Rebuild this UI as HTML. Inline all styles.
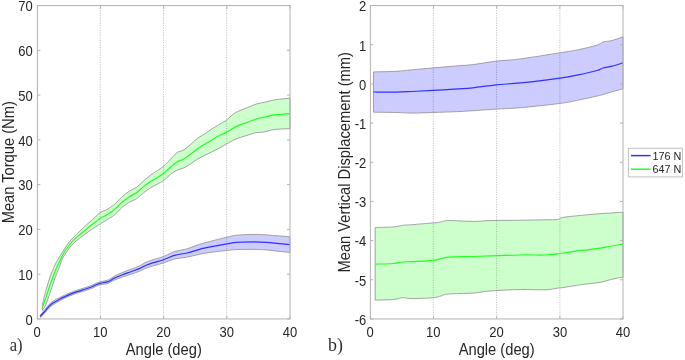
<!DOCTYPE html>
<html lang="en"><head><meta charset="utf-8"><title>Mean torque and vertical displacement</title>
<style>
html,body{margin:0;padding:0;background:#fff;}
svg{display:block;filter:blur(0.35px);}
text{font-family:"Liberation Sans",sans-serif;fill:#262626;}
.t{font-size:14px;}
.l{font-size:15.9px;}
.g{font-size:10.8px;}
.s{font-family:"Liberation Serif",serif;font-size:19.5px;fill:#2e2e2e;}
</style></head><body>
<svg width="685" height="360" viewBox="0 0 685 360">
<rect x="0" y="0" width="685" height="360" fill="#ffffff"/>
<line x1="100.20" y1="5.55" x2="100.20" y2="318.95" stroke="#bcbcbc" stroke-width="1" stroke-dasharray="1.1 1.35"/>
<line x1="163.45" y1="5.55" x2="163.45" y2="318.95" stroke="#bcbcbc" stroke-width="1" stroke-dasharray="1.1 1.35"/>
<line x1="226.70" y1="5.55" x2="226.70" y2="318.95" stroke="#bcbcbc" stroke-width="1" stroke-dasharray="1.1 1.35"/>
<path d="M42.50 303.70 C43.10 301.37 44.78 294.30 46.10 289.70 C47.42 285.10 48.92 280.23 50.40 276.10 C51.88 271.97 53.52 268.05 55.00 264.90 C56.48 261.75 58.02 259.38 59.30 257.20 C60.58 255.02 61.03 254.35 62.70 251.80 C64.37 249.25 67.08 244.73 69.30 241.90 C71.52 239.07 73.77 237.05 76.00 234.80 C78.23 232.55 80.48 230.48 82.70 228.40 C84.92 226.32 87.08 224.32 89.30 222.30 C91.52 220.28 94.18 217.93 96.00 216.30 C97.82 214.67 98.53 213.55 100.20 212.50 C101.87 211.45 103.92 211.12 106.00 210.00 C108.08 208.88 110.87 207.13 112.70 205.80 C114.53 204.47 115.40 203.55 117.00 202.00 C118.60 200.45 120.15 198.37 122.30 196.50 C124.45 194.63 127.48 192.37 129.90 190.80 C132.32 189.23 134.48 188.80 136.80 187.10 C139.12 185.40 141.48 182.62 143.80 180.60 C146.12 178.58 148.38 176.70 150.70 175.00 C153.02 173.30 155.57 171.85 157.70 170.40 C159.83 168.95 161.32 168.20 163.50 166.30 C165.68 164.40 168.57 161.28 170.80 159.00 C173.03 156.72 174.72 154.12 176.90 152.60 C179.08 151.08 181.58 151.28 183.90 149.90 C186.22 148.52 188.48 146.27 190.80 144.30 C193.12 142.33 195.48 139.83 197.80 138.10 C200.12 136.37 202.38 135.42 204.70 133.90 C207.02 132.38 209.38 130.50 211.70 129.00 C214.02 127.50 216.15 126.37 218.60 124.90 C221.05 123.43 223.90 122.05 226.40 120.20 C228.90 118.35 231.12 115.50 233.60 113.80 C236.08 112.10 238.75 111.13 241.30 110.00 C243.85 108.87 246.35 108.02 248.90 107.00 C251.45 105.98 254.05 104.67 256.60 103.90 C259.15 103.13 261.67 102.98 264.20 102.40 C266.73 101.82 269.25 100.93 271.80 100.40 C274.35 99.87 276.47 99.58 279.50 99.20 C282.53 98.82 288.25 98.28 290.00 98.10 L290.00 128.70 C288.25 128.77 282.53 128.90 279.50 129.10 C276.47 129.30 274.35 129.42 271.80 129.90 C269.25 130.38 266.73 131.57 264.20 132.00 C261.67 132.43 259.15 132.03 256.60 132.50 C254.05 132.97 251.45 134.03 248.90 134.80 C246.35 135.57 243.85 136.22 241.30 137.10 C238.75 137.98 236.08 138.93 233.60 140.10 C231.12 141.27 228.90 142.70 226.40 144.10 C223.90 145.50 221.05 147.20 218.60 148.50 C216.15 149.80 214.02 150.75 211.70 151.90 C209.38 153.05 207.02 154.23 204.70 155.40 C202.38 156.57 200.12 157.51 197.80 158.90 C195.48 160.29 193.12 162.25 190.80 163.75 C188.48 165.25 186.22 166.83 183.90 167.90 C181.58 168.97 179.08 169.15 176.90 170.20 C174.72 171.25 173.03 172.47 170.80 174.20 C168.57 175.93 165.68 178.98 163.50 180.60 C161.32 182.22 159.83 182.70 157.70 183.90 C155.57 185.10 153.02 186.35 150.70 187.80 C148.38 189.25 146.12 190.80 143.80 192.60 C141.48 194.40 139.12 197.05 136.80 198.60 C134.48 200.15 132.32 200.45 129.90 201.90 C127.48 203.35 124.45 205.53 122.30 207.30 C120.15 209.07 118.60 211.00 117.00 212.50 C115.40 214.00 114.53 215.00 112.70 216.30 C110.87 217.60 108.08 219.02 106.00 220.30 C103.92 221.58 101.87 222.95 100.20 224.00 C98.53 225.05 97.82 225.42 96.00 226.60 C94.18 227.78 91.52 229.53 89.30 231.10 C87.08 232.67 84.92 234.35 82.70 236.00 C80.48 237.65 78.23 238.98 76.00 241.00 C73.77 243.02 71.52 245.23 69.30 248.10 C67.08 250.97 64.37 255.02 62.70 258.20 C61.03 261.38 60.58 263.88 59.30 267.20 C58.02 270.52 56.48 274.02 55.00 278.10 C53.52 282.18 51.88 287.37 50.40 291.70 C48.92 296.03 47.42 301.00 46.10 304.10 C44.78 307.20 43.10 309.27 42.50 310.30 Z" fill="#00ff00" fill-opacity="0.2" stroke="#8e8e8e" stroke-width="0.8" stroke-linejoin="round"/>
<path d="M42.50 307.00 C43.10 305.32 44.78 300.75 46.10 296.90 C47.42 293.05 48.92 288.13 50.40 283.90 C51.88 279.67 53.52 275.12 55.00 271.50 C56.48 267.88 58.02 264.95 59.30 262.20 C60.58 259.45 61.03 257.87 62.70 255.00 C64.37 252.13 67.08 247.85 69.30 245.00 C71.52 242.15 73.77 240.03 76.00 237.90 C78.23 235.77 80.48 234.05 82.70 232.20 C84.92 230.35 87.08 228.57 89.30 226.80 C91.52 225.03 94.18 223.03 96.00 221.60 C97.82 220.17 98.53 219.27 100.20 218.20 C101.87 217.13 103.92 216.42 106.00 215.20 C108.08 213.98 110.87 212.22 112.70 210.90 C114.53 209.58 115.40 208.78 117.00 207.30 C118.60 205.82 120.15 203.82 122.30 202.00 C124.45 200.18 127.48 197.97 129.90 196.40 C132.32 194.83 134.48 194.27 136.80 192.60 C139.12 190.93 141.48 188.25 143.80 186.40 C146.12 184.55 148.38 183.00 150.70 181.50 C153.02 180.00 155.57 178.73 157.70 177.40 C159.83 176.07 161.32 175.23 163.50 173.50 C165.68 171.77 168.57 168.93 170.80 167.00 C173.03 165.07 174.72 163.25 176.90 161.90 C179.08 160.55 181.58 160.22 183.90 158.90 C186.22 157.58 188.48 155.73 190.80 154.00 C193.12 152.27 195.48 150.12 197.80 148.50 C200.12 146.88 202.38 145.70 204.70 144.30 C207.02 142.90 209.38 141.48 211.70 140.10 C214.02 138.72 216.15 137.28 218.60 136.00 C221.05 134.72 223.90 133.75 226.40 132.40 C228.90 131.05 231.12 129.23 233.60 127.90 C236.08 126.57 238.75 125.42 241.30 124.40 C243.85 123.38 246.35 122.75 248.90 121.80 C251.45 120.85 254.05 119.47 256.60 118.70 C259.15 117.93 261.67 117.78 264.20 117.20 C266.73 116.62 269.25 115.65 271.80 115.20 C274.35 114.75 276.47 114.75 279.50 114.50 C282.53 114.25 288.25 113.83 290.00 113.70" fill="none" stroke="#22ff22" stroke-width="1.2" stroke-linejoin="round" stroke-linecap="butt"/>
<path d="M40.30 315.10 C41.03 314.22 43.25 311.57 44.70 309.80 C46.15 308.03 47.57 305.97 49.00 304.50 C50.43 303.03 51.62 302.10 53.30 301.00 C54.98 299.90 57.17 298.88 59.10 297.90 C61.03 296.92 62.50 296.18 64.90 295.10 C67.30 294.02 70.62 292.48 73.50 291.40 C76.38 290.32 79.30 289.55 82.20 288.60 C85.10 287.65 88.50 286.63 90.90 285.70 C93.30 284.77 95.04 283.65 96.60 283.00 C98.16 282.35 98.32 282.32 100.25 281.80 C102.18 281.28 105.91 280.80 108.20 279.90 C110.49 279.00 111.60 277.65 114.00 276.40 C116.40 275.15 119.77 273.60 122.60 272.40 C125.43 271.20 128.12 270.32 131.00 269.20 C133.88 268.08 137.18 266.95 139.90 265.70 C142.62 264.45 143.37 263.23 147.30 261.70 C151.23 260.17 158.95 258.20 163.50 256.50 C168.05 254.80 170.68 252.77 174.60 251.50 C178.52 250.23 182.87 250.10 187.00 248.90 C191.13 247.70 195.27 245.62 199.40 244.30 C203.53 242.98 207.25 242.17 211.80 241.00 C216.35 239.83 222.55 238.27 226.70 237.30 C230.85 236.33 232.15 235.68 236.70 235.20 C241.25 234.72 249.05 234.45 254.00 234.40 C258.95 234.35 262.27 234.65 266.40 234.90 C270.53 235.15 274.87 235.60 278.80 235.90 C282.73 236.20 288.13 236.57 290.00 236.70 L290.00 252.50 C288.13 252.30 282.73 251.73 278.80 251.30 C274.87 250.87 270.53 250.22 266.40 249.90 C262.27 249.58 258.95 249.45 254.00 249.40 C249.05 249.35 241.25 249.42 236.70 249.60 C232.15 249.78 230.85 250.07 226.70 250.50 C222.55 250.93 216.35 251.57 211.80 252.20 C207.25 252.83 203.53 253.48 199.40 254.30 C195.27 255.12 191.13 256.30 187.00 257.10 C182.87 257.90 178.52 258.13 174.60 259.10 C170.68 260.07 168.05 261.47 163.50 262.90 C158.95 264.33 151.23 266.33 147.30 267.70 C143.37 269.07 142.62 270.02 139.90 271.10 C137.18 272.18 133.88 273.22 131.00 274.20 C128.12 275.18 125.43 276.00 122.60 277.00 C119.77 278.00 116.40 279.15 114.00 280.20 C111.60 281.25 110.49 282.53 108.20 283.30 C105.91 284.07 102.18 284.35 100.25 284.80 C98.32 285.25 98.16 285.35 96.60 286.00 C95.04 286.65 93.30 287.77 90.90 288.70 C88.50 289.63 85.10 290.65 82.20 291.60 C79.30 292.55 76.38 293.32 73.50 294.40 C70.62 295.48 67.30 296.98 64.90 298.10 C62.50 299.22 61.03 300.02 59.10 301.10 C57.17 302.18 54.98 303.40 53.30 304.60 C51.62 305.80 50.43 306.87 49.00 308.30 C47.57 309.73 46.15 311.67 44.70 313.20 C43.25 314.73 41.03 316.78 40.30 317.50 Z" fill="#0000ff" fill-opacity="0.2" stroke="#8e8e8e" stroke-width="0.8" stroke-linejoin="round"/>
<path d="M40.30 316.30 C41.03 315.50 43.25 313.15 44.70 311.50 C46.15 309.85 47.57 307.85 49.00 306.40 C50.43 304.95 51.62 303.95 53.30 302.80 C54.98 301.65 57.17 300.53 59.10 299.50 C61.03 298.47 62.50 297.70 64.90 296.60 C67.30 295.50 70.62 293.98 73.50 292.90 C76.38 291.82 79.30 291.05 82.20 290.10 C85.10 289.15 88.50 288.13 90.90 287.20 C93.30 286.27 95.04 285.15 96.60 284.50 C98.16 283.85 98.32 283.78 100.25 283.30 C102.18 282.82 105.91 282.43 108.20 281.60 C110.49 280.77 111.60 279.45 114.00 278.30 C116.40 277.15 119.77 275.80 122.60 274.70 C125.43 273.60 128.12 272.75 131.00 271.70 C133.88 270.65 137.18 269.57 139.90 268.40 C142.62 267.23 143.37 266.15 147.30 264.70 C151.23 263.25 158.95 261.27 163.50 259.70 C168.05 258.13 170.68 256.42 174.60 255.30 C178.52 254.18 182.87 254.00 187.00 253.00 C191.13 252.00 195.27 250.37 199.40 249.30 C203.53 248.23 207.25 247.50 211.80 246.60 C216.35 245.70 222.55 244.60 226.70 243.90 C230.85 243.20 232.15 242.73 236.70 242.40 C241.25 242.07 249.05 241.90 254.00 241.90 C258.95 241.90 262.27 242.12 266.40 242.40 C270.53 242.68 274.87 243.23 278.80 243.60 C282.73 243.97 288.13 244.43 290.00 244.60" fill="none" stroke="#3030ff" stroke-width="1.2" stroke-linejoin="round" stroke-linecap="butt"/>
<rect x="37.40" y="5.55" width="252.60" height="313.40" fill="none" stroke="#b2b2b2" stroke-width="1"/>
<line x1="37.40" y1="318.95" x2="40.40" y2="318.95" stroke="#b2b2b2" stroke-width="1"/>
<line x1="290.00" y1="318.95" x2="287.00" y2="318.95" stroke="#b2b2b2" stroke-width="1"/>
<line x1="37.40" y1="274.18" x2="40.40" y2="274.18" stroke="#b2b2b2" stroke-width="1"/>
<line x1="290.00" y1="274.18" x2="287.00" y2="274.18" stroke="#b2b2b2" stroke-width="1"/>
<line x1="37.40" y1="229.41" x2="40.40" y2="229.41" stroke="#b2b2b2" stroke-width="1"/>
<line x1="290.00" y1="229.41" x2="287.00" y2="229.41" stroke="#b2b2b2" stroke-width="1"/>
<line x1="37.40" y1="184.64" x2="40.40" y2="184.64" stroke="#b2b2b2" stroke-width="1"/>
<line x1="290.00" y1="184.64" x2="287.00" y2="184.64" stroke="#b2b2b2" stroke-width="1"/>
<line x1="37.40" y1="139.86" x2="40.40" y2="139.86" stroke="#b2b2b2" stroke-width="1"/>
<line x1="290.00" y1="139.86" x2="287.00" y2="139.86" stroke="#b2b2b2" stroke-width="1"/>
<line x1="37.40" y1="95.09" x2="40.40" y2="95.09" stroke="#b2b2b2" stroke-width="1"/>
<line x1="290.00" y1="95.09" x2="287.00" y2="95.09" stroke="#b2b2b2" stroke-width="1"/>
<line x1="37.40" y1="50.32" x2="40.40" y2="50.32" stroke="#b2b2b2" stroke-width="1"/>
<line x1="290.00" y1="50.32" x2="287.00" y2="50.32" stroke="#b2b2b2" stroke-width="1"/>
<line x1="37.40" y1="5.55" x2="40.40" y2="5.55" stroke="#b2b2b2" stroke-width="1"/>
<line x1="290.00" y1="5.55" x2="287.00" y2="5.55" stroke="#b2b2b2" stroke-width="1"/>
<line x1="37.40" y1="318.95" x2="37.40" y2="315.95" stroke="#b2b2b2" stroke-width="1"/>
<line x1="37.40" y1="5.55" x2="37.40" y2="8.55" stroke="#b2b2b2" stroke-width="1"/>
<line x1="100.55" y1="318.95" x2="100.55" y2="315.95" stroke="#b2b2b2" stroke-width="1"/>
<line x1="100.55" y1="5.55" x2="100.55" y2="8.55" stroke="#b2b2b2" stroke-width="1"/>
<line x1="163.70" y1="318.95" x2="163.70" y2="315.95" stroke="#b2b2b2" stroke-width="1"/>
<line x1="163.70" y1="5.55" x2="163.70" y2="8.55" stroke="#b2b2b2" stroke-width="1"/>
<line x1="226.85" y1="318.95" x2="226.85" y2="315.95" stroke="#b2b2b2" stroke-width="1"/>
<line x1="226.85" y1="5.55" x2="226.85" y2="8.55" stroke="#b2b2b2" stroke-width="1"/>
<line x1="290.00" y1="318.95" x2="290.00" y2="315.95" stroke="#b2b2b2" stroke-width="1"/>
<line x1="290.00" y1="5.55" x2="290.00" y2="8.55" stroke="#b2b2b2" stroke-width="1"/>
<text class="t" transform="translate(32.80 324.75) scale(0.929 1)" text-anchor="end">0</text>
<text class="t" transform="translate(32.80 279.98) scale(0.929 1)" text-anchor="end">10</text>
<text class="t" transform="translate(32.80 235.21) scale(0.929 1)" text-anchor="end">20</text>
<text class="t" transform="translate(32.80 190.44) scale(0.929 1)" text-anchor="end">30</text>
<text class="t" transform="translate(32.80 145.66) scale(0.929 1)" text-anchor="end">40</text>
<text class="t" transform="translate(32.80 100.89) scale(0.929 1)" text-anchor="end">50</text>
<text class="t" transform="translate(32.80 56.12) scale(0.929 1)" text-anchor="end">60</text>
<text class="t" transform="translate(32.80 11.35) scale(0.929 1)" text-anchor="end">70</text>
<text class="t" transform="translate(37.00 336.70) scale(0.929 1)" text-anchor="middle">0</text>
<text class="t" transform="translate(100.20 336.70) scale(0.929 1)" text-anchor="middle">10</text>
<text class="t" transform="translate(163.45 336.70) scale(0.929 1)" text-anchor="middle">20</text>
<text class="t" transform="translate(226.70 336.70) scale(0.929 1)" text-anchor="middle">30</text>
<text class="t" transform="translate(290.00 336.70) scale(0.929 1)" text-anchor="middle">40</text>
<text class="l" transform="translate(163.80 355.00) scale(0.925 1)" text-anchor="middle">Angle (deg)</text>
<text class="l" transform="translate(13.80 162.25) rotate(-90) scale(0.925 1)" text-anchor="middle">Mean Torque (Nm)</text>
<text class="s" transform="translate(9.7 351.0) scale(0.85 1)">a)</text>
<line x1="433.30" y1="5.55" x2="433.30" y2="318.95" stroke="#bcbcbc" stroke-width="1" stroke-dasharray="1.1 1.35"/>
<line x1="496.60" y1="5.55" x2="496.60" y2="318.95" stroke="#bcbcbc" stroke-width="1" stroke-dasharray="1.1 1.35"/>
<line x1="559.90" y1="5.55" x2="559.90" y2="318.95" stroke="#bcbcbc" stroke-width="1" stroke-dasharray="1.1 1.35"/>
<path d="M373.50 71.90 C377.33 71.80 390.12 71.65 396.50 71.30 C402.88 70.95 405.68 70.37 411.80 69.80 C417.92 69.23 425.57 68.57 433.20 67.90 C440.83 67.23 451.00 66.35 457.60 65.80 C464.20 65.25 466.30 65.38 472.80 64.60 C479.30 63.82 488.65 62.05 496.60 61.10 C504.55 60.15 509.90 60.30 520.50 58.90 C531.10 57.50 550.53 54.23 560.20 52.70 C569.87 51.17 572.38 50.97 578.50 49.70 C584.62 48.43 592.82 46.37 596.90 45.10 C600.98 43.83 600.47 42.87 603.00 42.10 C605.53 41.33 608.77 41.37 612.10 40.50 C615.43 39.63 621.18 37.50 623.00 36.90 L623.00 88.80 C621.18 89.30 615.43 90.85 612.10 91.80 C608.77 92.75 605.53 93.78 603.00 94.50 C600.47 95.22 600.98 95.17 596.90 96.10 C592.82 97.03 584.62 98.88 578.50 100.10 C572.38 101.32 569.87 102.13 560.20 103.40 C550.53 104.67 531.10 106.75 520.50 107.70 C509.90 108.65 504.55 108.60 496.60 109.10 C488.65 109.60 479.30 110.28 472.80 110.70 C466.30 111.12 464.20 111.30 457.60 111.60 C451.00 111.90 440.83 112.25 433.20 112.50 C425.57 112.75 417.92 113.10 411.80 113.10 C405.68 113.10 402.88 112.65 396.50 112.50 C390.12 112.35 377.33 112.25 373.50 112.20 Z" fill="#0000ff" fill-opacity="0.2" stroke="#8e8e8e" stroke-width="0.8" stroke-linejoin="round"/>
<path d="M373.50 92.00 C377.33 92.02 390.12 92.18 396.50 92.10 C402.88 92.02 405.68 91.78 411.80 91.50 C417.92 91.22 425.57 90.83 433.20 90.40 C440.83 89.97 451.00 89.33 457.60 88.90 C464.20 88.47 466.30 88.48 472.80 87.80 C479.30 87.12 488.65 85.62 496.60 84.80 C504.55 83.98 509.90 84.02 520.50 82.90 C531.10 81.78 550.53 79.45 560.20 78.10 C569.87 76.75 572.38 76.07 578.50 74.80 C584.62 73.53 592.82 71.63 596.90 70.50 C600.98 69.37 600.47 68.72 603.00 68.00 C605.53 67.28 608.77 67.07 612.10 66.20 C615.43 65.33 621.18 63.37 623.00 62.80" fill="none" stroke="#3030ff" stroke-width="1.2" stroke-linejoin="round" stroke-linecap="butt"/>
<path d="M375.20 227.50 C378.25 227.40 388.93 227.27 393.50 226.90 C398.07 226.53 399.55 225.67 402.60 225.30 C405.65 224.93 406.70 225.10 411.80 224.70 C416.90 224.30 428.37 223.35 433.20 222.90 C438.03 222.45 438.27 222.40 440.80 222.00 C443.33 221.60 443.07 220.60 448.40 220.50 C453.73 220.40 465.87 221.38 472.80 221.40 C479.73 221.42 482.05 220.80 490.00 220.60 C497.95 220.40 511.33 220.33 520.50 220.20 C529.67 220.07 538.88 219.92 545.00 219.80 C551.12 219.68 554.15 219.90 557.20 219.50 C560.25 219.10 559.23 218.10 563.30 217.40 C567.37 216.70 575.50 215.92 581.60 215.30 C587.70 214.68 595.32 214.07 599.90 213.70 C604.48 213.33 606.05 213.30 609.10 213.10 C612.15 212.90 615.88 212.65 618.20 212.50 C620.52 212.35 622.20 212.25 623.00 212.20 L623.00 277.30 C622.20 277.40 620.52 277.45 618.20 277.90 C615.88 278.35 612.15 279.25 609.10 280.00 C606.05 280.75 604.48 281.63 599.90 282.40 C595.32 283.17 587.70 283.75 581.60 284.60 C575.50 285.45 567.37 286.90 563.30 287.50 C559.23 288.10 560.25 287.82 557.20 288.20 C554.15 288.58 551.12 289.58 545.00 289.80 C538.88 290.02 529.67 289.30 520.50 289.50 C511.33 289.70 497.95 290.40 490.00 291.00 C482.05 291.60 479.73 292.60 472.80 293.10 C465.87 293.60 453.73 293.52 448.40 294.00 C443.07 294.48 443.33 295.38 440.80 296.00 C438.27 296.62 438.03 297.27 433.20 297.70 C428.37 298.13 416.90 298.60 411.80 298.60 C406.70 298.60 405.65 297.55 402.60 297.70 C399.55 297.85 398.07 299.10 393.50 299.50 C388.93 299.90 378.25 300.00 375.20 300.10 Z" fill="#00ff00" fill-opacity="0.2" stroke="#8e8e8e" stroke-width="0.8" stroke-linejoin="round"/>
<path d="M375.20 264.10 C378.25 264.00 388.93 263.85 393.50 263.50 C398.07 263.15 399.55 262.32 402.60 262.00 C405.65 261.68 406.70 261.87 411.80 261.60 C416.90 261.33 428.37 260.85 433.20 260.40 C438.03 259.95 438.27 259.45 440.80 258.90 C443.33 258.35 443.07 257.50 448.40 257.10 C453.73 256.70 465.87 256.70 472.80 256.50 C479.73 256.30 482.05 256.15 490.00 255.90 C497.95 255.65 511.33 255.15 520.50 255.00 C529.67 254.85 538.88 255.18 545.00 255.00 C551.12 254.82 554.15 254.23 557.20 253.90 C560.25 253.57 559.23 253.58 563.30 253.00 C567.37 252.42 575.50 251.20 581.60 250.40 C587.70 249.60 595.32 248.85 599.90 248.20 C604.48 247.55 606.05 247.03 609.10 246.50 C612.15 245.97 615.88 245.37 618.20 245.00 C620.52 244.63 622.20 244.42 623.00 244.30" fill="none" stroke="#22ff22" stroke-width="1.2" stroke-linejoin="round" stroke-linecap="butt"/>
<rect x="370.40" y="5.55" width="252.60" height="313.40" fill="none" stroke="#b2b2b2" stroke-width="1"/>
<line x1="370.40" y1="318.95" x2="373.40" y2="318.95" stroke="#b2b2b2" stroke-width="1"/>
<line x1="623.00" y1="318.95" x2="620.00" y2="318.95" stroke="#b2b2b2" stroke-width="1"/>
<line x1="370.40" y1="279.77" x2="373.40" y2="279.77" stroke="#b2b2b2" stroke-width="1"/>
<line x1="623.00" y1="279.77" x2="620.00" y2="279.77" stroke="#b2b2b2" stroke-width="1"/>
<line x1="370.40" y1="240.60" x2="373.40" y2="240.60" stroke="#b2b2b2" stroke-width="1"/>
<line x1="623.00" y1="240.60" x2="620.00" y2="240.60" stroke="#b2b2b2" stroke-width="1"/>
<line x1="370.40" y1="201.43" x2="373.40" y2="201.43" stroke="#b2b2b2" stroke-width="1"/>
<line x1="623.00" y1="201.43" x2="620.00" y2="201.43" stroke="#b2b2b2" stroke-width="1"/>
<line x1="370.40" y1="162.25" x2="373.40" y2="162.25" stroke="#b2b2b2" stroke-width="1"/>
<line x1="623.00" y1="162.25" x2="620.00" y2="162.25" stroke="#b2b2b2" stroke-width="1"/>
<line x1="370.40" y1="123.07" x2="373.40" y2="123.07" stroke="#b2b2b2" stroke-width="1"/>
<line x1="623.00" y1="123.07" x2="620.00" y2="123.07" stroke="#b2b2b2" stroke-width="1"/>
<line x1="370.40" y1="83.90" x2="373.40" y2="83.90" stroke="#b2b2b2" stroke-width="1"/>
<line x1="623.00" y1="83.90" x2="620.00" y2="83.90" stroke="#b2b2b2" stroke-width="1"/>
<line x1="370.40" y1="44.73" x2="373.40" y2="44.73" stroke="#b2b2b2" stroke-width="1"/>
<line x1="623.00" y1="44.73" x2="620.00" y2="44.73" stroke="#b2b2b2" stroke-width="1"/>
<line x1="370.40" y1="5.55" x2="373.40" y2="5.55" stroke="#b2b2b2" stroke-width="1"/>
<line x1="623.00" y1="5.55" x2="620.00" y2="5.55" stroke="#b2b2b2" stroke-width="1"/>
<line x1="370.40" y1="318.95" x2="370.40" y2="315.95" stroke="#b2b2b2" stroke-width="1"/>
<line x1="370.40" y1="5.55" x2="370.40" y2="8.55" stroke="#b2b2b2" stroke-width="1"/>
<line x1="433.55" y1="318.95" x2="433.55" y2="315.95" stroke="#b2b2b2" stroke-width="1"/>
<line x1="433.55" y1="5.55" x2="433.55" y2="8.55" stroke="#b2b2b2" stroke-width="1"/>
<line x1="496.70" y1="318.95" x2="496.70" y2="315.95" stroke="#b2b2b2" stroke-width="1"/>
<line x1="496.70" y1="5.55" x2="496.70" y2="8.55" stroke="#b2b2b2" stroke-width="1"/>
<line x1="559.85" y1="318.95" x2="559.85" y2="315.95" stroke="#b2b2b2" stroke-width="1"/>
<line x1="559.85" y1="5.55" x2="559.85" y2="8.55" stroke="#b2b2b2" stroke-width="1"/>
<line x1="623.00" y1="318.95" x2="623.00" y2="315.95" stroke="#b2b2b2" stroke-width="1"/>
<line x1="623.00" y1="5.55" x2="623.00" y2="8.55" stroke="#b2b2b2" stroke-width="1"/>
<text class="t" transform="translate(366.20 324.75) scale(0.929 1)" text-anchor="end">-6</text>
<text class="t" transform="translate(366.20 285.57) scale(0.929 1)" text-anchor="end">-5</text>
<text class="t" transform="translate(366.20 246.40) scale(0.929 1)" text-anchor="end">-4</text>
<text class="t" transform="translate(366.20 207.23) scale(0.929 1)" text-anchor="end">-3</text>
<text class="t" transform="translate(366.20 168.05) scale(0.929 1)" text-anchor="end">-2</text>
<text class="t" transform="translate(366.20 128.88) scale(0.929 1)" text-anchor="end">-1</text>
<text class="t" transform="translate(366.20 89.70) scale(0.929 1)" text-anchor="end">0</text>
<text class="t" transform="translate(366.20 50.53) scale(0.929 1)" text-anchor="end">1</text>
<text class="t" transform="translate(366.20 11.35) scale(0.929 1)" text-anchor="end">2</text>
<text class="t" transform="translate(370.20 336.70) scale(0.929 1)" text-anchor="middle">0</text>
<text class="t" transform="translate(433.30 336.70) scale(0.929 1)" text-anchor="middle">10</text>
<text class="t" transform="translate(496.60 336.70) scale(0.929 1)" text-anchor="middle">20</text>
<text class="t" transform="translate(559.90 336.70) scale(0.929 1)" text-anchor="middle">30</text>
<text class="t" transform="translate(623.00 336.70) scale(0.929 1)" text-anchor="middle">40</text>
<text class="l" transform="translate(496.70 355.00) scale(0.925 1)" text-anchor="middle">Angle (deg)</text>
<text class="l" transform="translate(349.90 162.25) rotate(-90) scale(0.925 1)" text-anchor="middle">Mean Vertical Displacement (mm)</text>
<text class="s" transform="translate(328 351.1) scale(0.92 1)">b)</text>
<rect x="628.4" y="148.3" width="54.0" height="28.6" fill="#ffffff" stroke="#c0c0c0" stroke-width="1"/>
<line x1="631" y1="155.6" x2="650.6" y2="155.6" stroke="#3030ff" stroke-width="1.5"/>
<line x1="631" y1="169.2" x2="650.6" y2="169.2" stroke="#22ff22" stroke-width="1.5"/>
<text class="g" x="652.6" y="159.5">176 N</text>
<text class="g" x="652.6" y="173.1">647 N</text>
</svg>
</body></html>
